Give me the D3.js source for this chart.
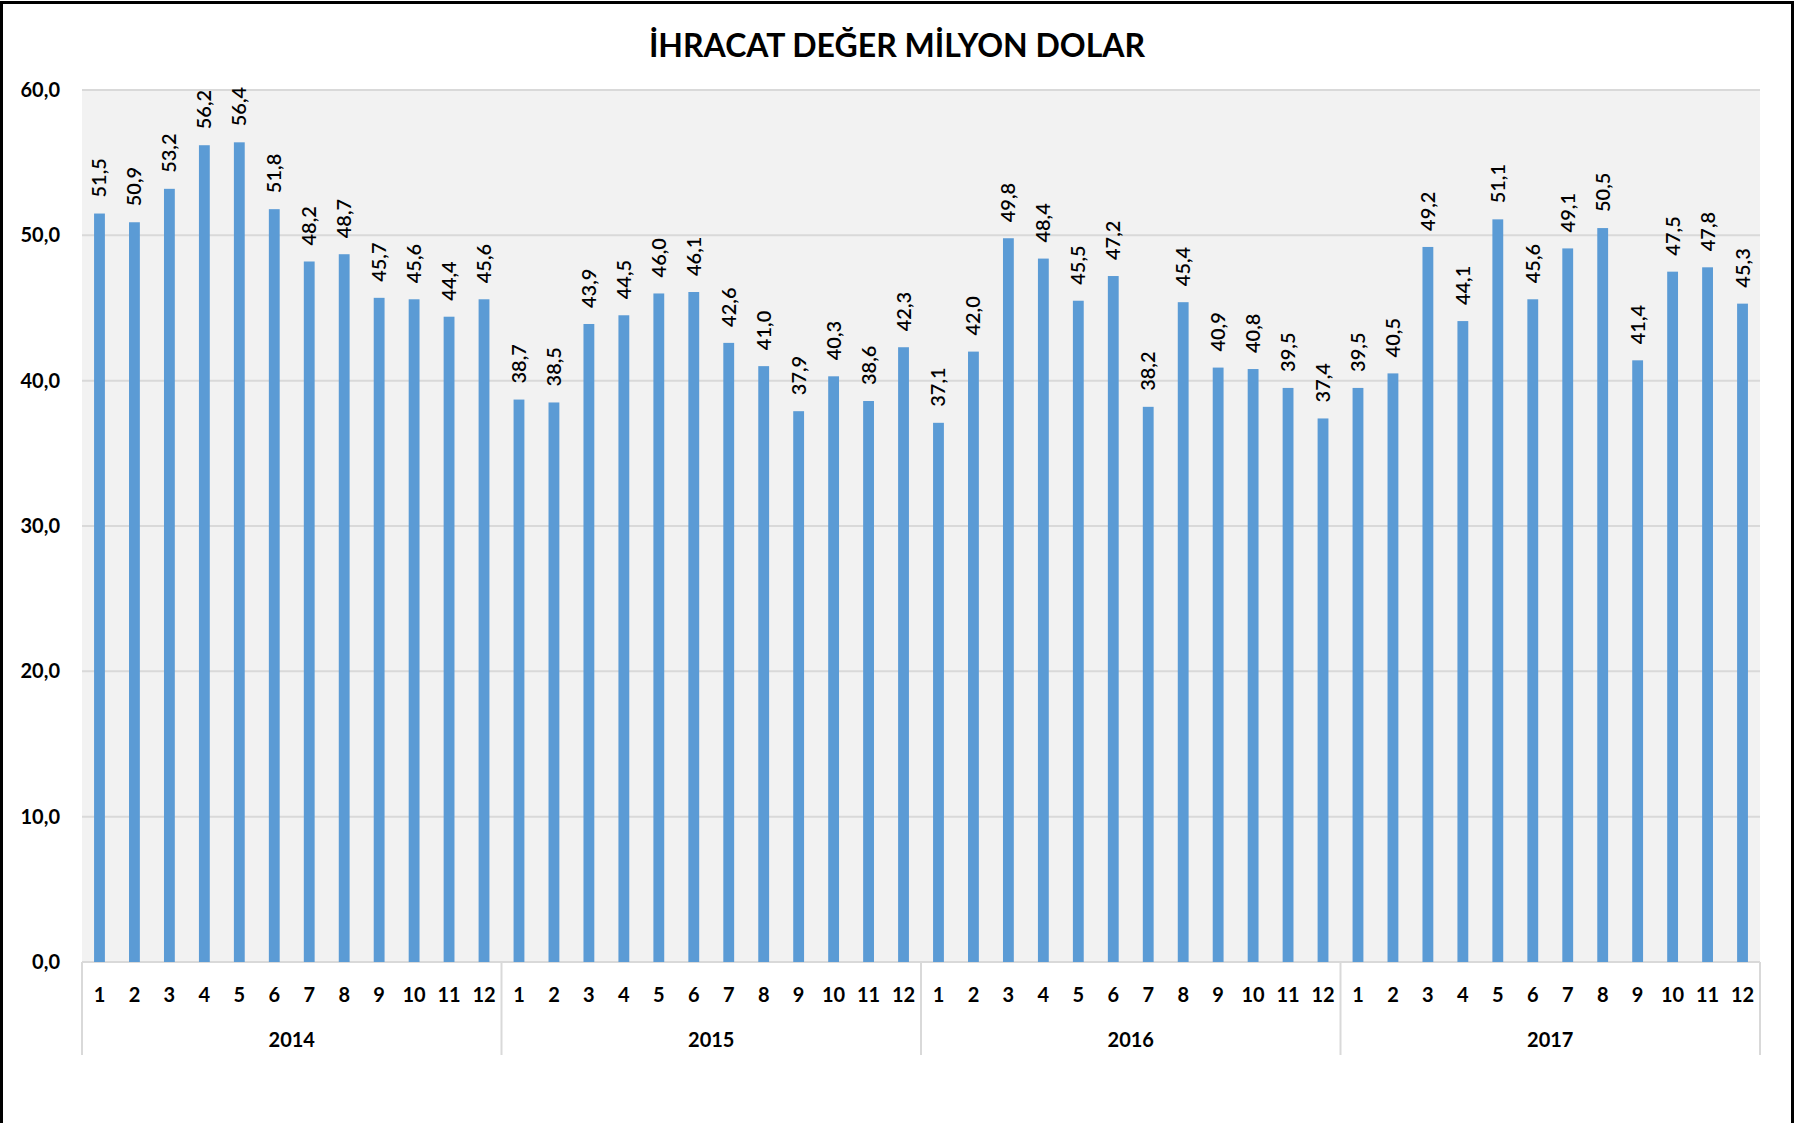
<!DOCTYPE html>
<html>
<head>
<meta charset="utf-8">
<script src="https://cdn.jsdelivr.net/npm/d3@7"></script>
<style>
	body { margin: 0; background: #fff; }
	svg text { font-family: Lato, 'Open Sans', sans-serif; fill: #000; }
</style>
</head>
<body>
<svg id="chart" width="1800" height="1123"></svg>
<script>
var title = 'İHRACAT DEĞER MİLYON DOLAR'
var years = ['2014','2015','2016','2017']
var months = ['1','2','3','4','5','6','7','8','9','10','11','12']
var v2014 = [51.5,50.9,53.2,56.2,56.4,51.8,48.2,48.7,45.7,45.6,44.4,45.6]
var v2015 = [38.7,38.5,43.9,44.5,46.0,46.1,42.6,41.0,37.9,40.3,38.6,42.3]
var v2016 = [37.1,42.0,49.8,48.4,45.5,47.2,38.2,45.4,40.9,40.8,39.5,37.4]
var v2017 = [39.5,40.5,49.2,44.1,51.1,45.6,49.1,50.5,41.4,47.5,47.8,45.3]
var yTicks = [0,10,20,30,40,50,60]

var series = [v2014,v2015,v2016,v2017]
var data = []
years.forEach((y,i)=>{
	months.forEach((m,j)=>{
		data.push({key: y+'-'+m, year: y, month: m, value: series[i][j]})
	})
})

var pLeft = 82, pRight = 1760, pTop = 90, pBottom = 962
var svg = d3.select('#chart')
var fmt = v => v.toFixed(1).replace('.', ',')

// frame
svg.append('path')
	.attr('d', 'M1.5,1123 L1.5,2.5 L1792.5,2.5 L1792.5,1123')
	.attr('fill','none').attr('stroke','#000').attr('stroke-width',3)

var x = d3.scaleBand().domain(data.map(d=>d.key)).range([pLeft,pRight]).paddingInner(0.69).paddingOuter(0.345)
var y = d3.scaleLinear().domain([0,60]).range([pBottom,pTop])

svg.append('rect').attr('x',pLeft).attr('y',pTop)
	.attr('width',pRight-pLeft).attr('height',pBottom-pTop).attr('fill','#F2F2F2')

// grid + y labels
var yAxis = svg.append('g')
yAxis.selectAll('line').data(yTicks).join('line')
	.attr('x1',pLeft).attr('x2',pRight)
	.attr('y1',d=>y(d)).attr('y2',d=>y(d))
	.attr('stroke','#D9D9D9').attr('stroke-width',2)
yAxis.selectAll('text').data(yTicks).join('text')
	.attr('x',60).attr('y',d=>y(d)).attr('dy','0.35em')
	.attr('text-anchor','end')
	.style('font-size','20px').style('font-weight','bold')
	.text(d=>fmt(d))

// bars
svg.append('g').selectAll('rect').data(data).join('rect')
	.attr('x',d=>x(d.key)).attr('width',x.bandwidth())
	.attr('y',d=>y(d.value)).attr('height',d=>pBottom-y(d.value))
	.attr('fill','#5B9BD5')

// value labels
svg.append('g').selectAll('text').data(data).join('text')
	.attr('transform',d=>'translate('+(x(d.key)+x.bandwidth()/2)+','+(y(d.value)-16)+') rotate(-90)')
	.attr('dy','0.35em')
	.style('font-size','20px').style('font-weight','600')
	.text(d=>fmt(d.value))

// category axis
var step = x.step()
var cat = svg.append('g')
cat.selectAll('text.m').data(data).join('text').attr('class','m')
	.attr('x',d=>x(d.key)+x.bandwidth()/2).attr('y',995).attr('dy','0.35em')
	.attr('text-anchor','middle')
	.style('font-size','20px').style('font-weight','bold')
	.text(d=>d.month)
cat.selectAll('text.y').data(years).join('text').attr('class','y')
	.attr('x',(d,i)=>pLeft+step*12*(i+0.5)).attr('y',1040).attr('dy','0.35em')
	.attr('text-anchor','middle')
	.style('font-size','20px').style('font-weight','bold')
	.text(d=>d)
var seps = d3.range(years.length+1).map(i=>pLeft+step*12*i)
cat.selectAll('line').data(seps).join('line')
	.attr('x1',d=>d).attr('x2',d=>d).attr('y1',pBottom).attr('y2',1055)
	.attr('stroke','#D9D9D9').attr('stroke-width',2)

svg.append('text').attr('x',897).attr('y',57)
	.attr('text-anchor','middle')
	.style('font-size','32px').style('font-weight','bold')
	.text(title)
</script>
</body>
</html>
